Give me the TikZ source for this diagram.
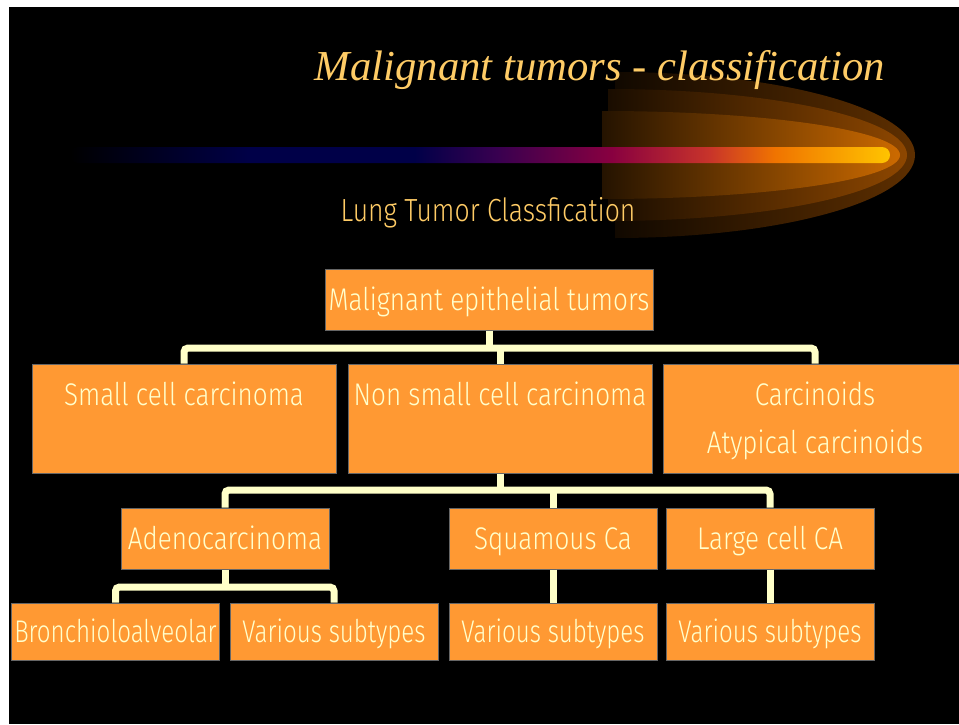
\documentclass[tikz,border=0pt]{standalone}
\usepackage{xcolor}
\usepackage{fontspec}
\newfontfamily\boxfont{Fira Sans Light}[FakeStretch=0.83]
\newfontfamily\leaffont{Fira Sans Light}[FakeStretch=0.77]
\newfontfamily\titlefont{Liberation Serif}
\usetikzlibrary{positioning,calc}

\definecolor{boxfill}{HTML}{FF9933}
\definecolor{boxline}{HTML}{666666}
\definecolor{boxtext}{HTML}{FFFFCC}
\definecolor{linkcol}{HTML}{FFFFC8}
\definecolor{titlecol}{HTML}{FFCC66}
\definecolor{barnavy}{HTML}{000048}
\definecolor{barpurple}{HTML}{380050}
\definecolor{barmagenta}{HTML}{880040}
\definecolor{barred}{HTML}{C8342A}
\definecolor{barorange}{HTML}{F07400}
\definecolor{baryellow}{HTML}{FFC400}
\definecolor{glowout}{HTML}{5E2F00}
\definecolor{glowmid}{HTML}{8E4700}
\definecolor{glowin}{HTML}{CC6A00}

\pgfdeclarehorizontalshading{barshade}{100bp}{color(0bp)=(black); color(25bp)=(black);
  color(36bp)=(barnavy); color(46bp)=(barnavy); color(51bp)=(barpurple); color(58bp)=(barmagenta);
  color(64bp)=(barred); color(68bp)=(barorange); color(75bp)=(baryellow); color(100bp)=(baryellow)}

\tikzset{
  box/.style={draw=boxline, line width=0.75pt, fill=boxfill, text=boxtext, inner sep=0pt,
    align=center, font=\boxfont\fontsize{23.5}{36}\selectfont, text height=16pt, text depth=0pt},
  tallbox/.style={box, minimum width=228pt, minimum height=81.75pt, text depth=36pt},
  midbox/.style={box, minimum width=156pt, minimum height=45.75pt},
  leafbox/.style={box, minimum width=156pt, minimum height=42.75pt,
    font=\leaffont\fontsize{23.5}{36}\selectfont},
  link/.style={linkcol, line width=5.25pt, rounded corners=3pt}
}

\begin{document}
\begin{tikzpicture}[x=0.75pt,y=-0.75pt]
    \useasboundingbox (0,0) rectangle (959,724);
    % Background
    \fill[white] (0,0) rectangle (959,724);
    \fill[black] (9,7) rectangle (959,724);

    % Glow behind the bar
    \foreach \l/\h/\r/\c in {615/83/300/glowout, 608/66/299/glowmid, 602/44/298/glowin} {
        \shade[left color=\c!18!black, right color=\c] (\l,155-\h)
            .. controls (\l+0.5523*\r,155-\h) and (\l+\r,155-0.5523*\h) .. (\l+\r,155)
            .. controls (\l+\r,155+0.5523*\h) and (\l+0.5523*\r,155+\h) .. (\l,155+\h) -- cycle;
    }

    % Bar
    \shade[shading=barshade, rounded corners=6pt] (70,147) rectangle (890,163);

    % Titles
    \node[text=titlecol, font=\titlefont\itshape\fontsize{32}{38}\selectfont, anchor=base, inner sep=0pt]
        (title) at (600,80) {Malignant tumors - classification};
    \node[text=titlecol, font=\boxfont\fontsize{24}{28}\selectfont, anchor=base, inner sep=0pt]
        (subtitle) at (488,221) {Lung Tumor Classfication};

    % Boxes
    \node[box, minimum width=246pt, minimum height=45.75pt] (mal) at (489,299.5) {Malignant epithelial tumors};
    \node[tallbox] (scc) at (184,418.5) {Small cell carcinoma};
    \node[tallbox] (nscc) at (500,418.5) {Non small cell carcinoma};
    \node[tallbox, text height=52pt, text depth=0pt] (carc) at (815,418.5) {Carcinoids\\Atypical carcinoids};
    \node[midbox] (adeno) at (225,538.5) {Adenocarcinoma};
    \node[midbox] (squam) at (553,538.5) {Squamous Ca};
    \node[midbox] (large) at (770,538.5) {Large cell CA};
    \node[leafbox] (bronch) at (115.5,631.5) {Bronchioloalveolar};
    \node[leafbox] (adenosub) at (334,631.5) {Various subtypes};
    \node[leafbox] (squamsub) at (553,631.5) {Various subtypes};
    \node[leafbox] (largesub) at (770,631.5) {Various subtypes};

    % Links
    \coordinate (bar1) at (0,348);
    \coordinate (bar2) at (0,490);
    \coordinate (bar3) at (0,587);
    \draw[link] (mal.south) -- (mal.south |- bar1);
    \draw[link] (scc.north) |- (carc.north |- bar1) -- (carc.north);
    \draw[link] (nscc.north) -- (nscc.north |- bar1);
    \draw[link] (nscc.south) -- (nscc.south |- bar2);
    \draw[link] (adeno.north) |- (large.north |- bar2) -- (large.north);
    \draw[link] (squam.north) -- (squam.north |- bar2);
    \draw[link] (adeno.south) -- (adeno.south |- bar3);
    \draw[link] (bronch.north) |- (adenosub.north |- bar3) -- (adenosub.north);
    \draw[link] (squam.south) -- (squamsub.north);
    \draw[link] (large.south) -- (largesub.north);

\end{tikzpicture}
\end{document}
